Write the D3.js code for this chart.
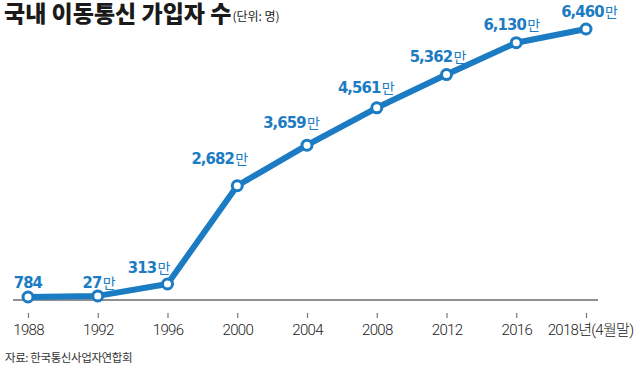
<!DOCTYPE html>
<html>
<head>
<meta charset="utf-8">
<script src="https://cdn.jsdelivr.net/npm/d3@7"></script>
<style>
  html, body { margin: 0; padding: 0; background: #fff; }
  svg { display: block; }
</style>
</head>
<body>
<svg id="chart" width="640" height="369"></svg>
<script>
// ---- data ----
const years = ["1988", "1992", "1996", "2000", "2004", "2008", "2012", "2016", "2018"];
const tickLabels = ["1988", "1992", "1996", "2000", "2004", "2008", "2012", "2016", "2018년(4월말)"];
const subscribers = [0.0784, 27, 313, 2682, 3659, 4561, 5362, 6130, 6460]; // unit: 만 명
const valueLabels = ["784", "27", "313", "2,682", "3,659", "4,561", "5,362", "6,130", "6,460"];
const unitLabels = ["", "만", "만", "만", "만", "만", "만", "만", "만"];

// label placement nudges (annotation layout)
const labelDx = [14, 18, 3, 11, 13, 18, 20, 24, 32];
const labelDy = [-9, -8, -11, -22, -17, -15, -13, -13, -12];

const BLUE = "#1b7bc3";
const svg = d3.select("#chart");

const x = d3.scalePoint().domain(years).range([28, 586]);
const y = d3.scaleLinear().domain([0, 6460]).range([297, 29]);

// Title
const title = svg.append("text")
  .attr("x", 4).attr("y", 22)
  .attr("font-family", "'Noto Sans CJK KR', sans-serif")
  .attr("fill", "#1a1a1a");
title.append("tspan").attr("font-size", 23).attr("font-weight", 900)
  .text("국내 이동통신 가입자 수");
title.append("tspan").attr("font-size", 12).attr("font-weight", 400).attr("dx", 1).attr("dy", -1)
  .text("(단위: 명)");

// Baseline axis
svg.append("line")
  .attr("x1", 13).attr("x2", 598)
  .attr("y1", 300).attr("y2", 300)
  .attr("stroke", "#6b6b6b").attr("stroke-width", 1.5);

// Bottom axis ticks & labels
const axis = d3.axisBottom(x)
  .tickSize(5)
  .tickPadding(6)
  .tickFormat((d, i) => tickLabels[i]);
const gx = svg.append("g").attr("transform", "translate(0,313)").call(axis);
gx.select(".domain").remove();
gx.selectAll(".tick line").attr("stroke", "#777").attr("stroke-width", 1.2);
gx.selectAll(".tick text")
  .attr("font-family", "Roboto, 'Noto Sans CJK KR', sans-serif")
  .attr("font-weight", 300)
  .attr("font-size", 15)
  .attr("fill", "#222")
  .attr("letter-spacing", -0.7);
gx.selectAll(".tick").filter(d => d === "2018").select("text").attr("dx", 4);

// Line
const line = d3.line().x((d, i) => x(years[i])).y(d => y(d));
svg.append("path")
  .datum(subscribers)
  .attr("d", line)
  .attr("fill", "none")
  .attr("stroke", BLUE)
  .attr("stroke-width", 6)
  .attr("stroke-linejoin", "round");

// Points
svg.selectAll("circle.pt")
  .data(subscribers)
  .join("circle")
  .attr("class", "pt")
  .attr("cx", (d, i) => x(years[i]))
  .attr("cy", d => y(d))
  .attr("r", 5)
  .attr("fill", "#fff")
  .attr("stroke", BLUE)
  .attr("stroke-width", 3);

// Value labels
const lbl = svg.selectAll("text.val")
  .data(subscribers)
  .join("text")
  .attr("class", "val")
  .attr("x", (d, i) => x(years[i]) + labelDx[i])
  .attr("y", (d, i) => y(d) + labelDy[i])
  .attr("text-anchor", "end")
  .attr("fill", BLUE);
lbl.append("tspan")
  .attr("font-family", "'DejaVu Sans Condensed', 'DejaVu Sans', sans-serif")
  .attr("font-stretch", "condensed")
  .attr("font-weight", 700)
  .attr("font-size", 16.5)
  .attr("letter-spacing", -0.9)
  .text((d, i) => valueLabels[i]);
lbl.append("tspan")
  .attr("font-family", "'Noto Sans CJK KR', sans-serif")
  .attr("font-weight", 400)
  .attr("font-size", 14)
  .attr("dx", 1.5)
  .text((d, i) => unitLabels[i]);

// Source
svg.append("text")
  .attr("x", 5).attr("y", 362)
  .attr("font-family", "'Noto Sans CJK KR', sans-serif")
  .attr("font-size", 11.5)
  .attr("fill", "#333")
  .attr("letter-spacing", -0.4)
  .text("자료: 한국통신사업자연합회");
</script>
</body>
</html>
